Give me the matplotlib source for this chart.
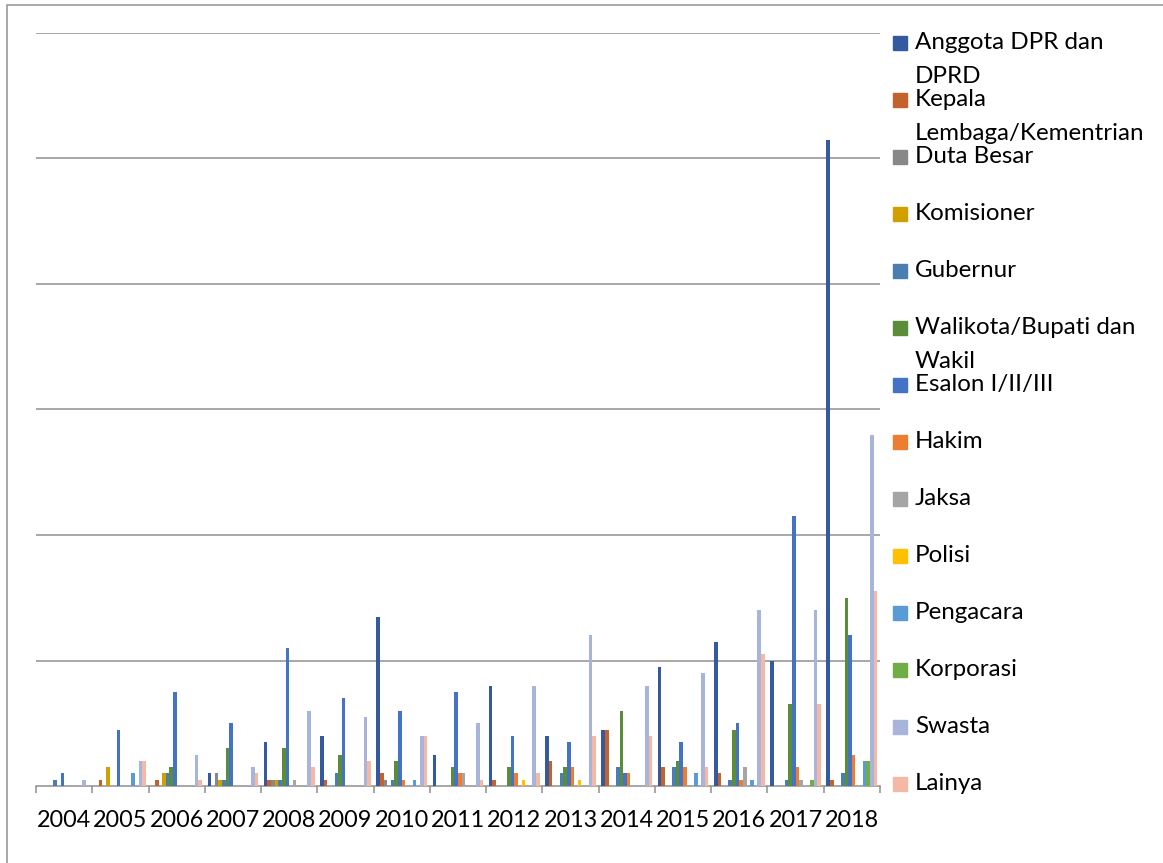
import numpy as np
import matplotlib
matplotlib.use("Agg")
import matplotlib.pyplot as plt
from matplotlib.patches import Rectangle

plt.rcParams['font.family'] = ['Lato', 'DejaVu Sans']

years = ["2004", "2005", "2006", "2007", "2008", "2009", "2010", "2011",
         "2012", "2013", "2014", "2015", "2016", "2017", "2018"]

labels = ["Anggota DPR dan\nDPRD", "Kepala\nLembaga/Kementrian", "Duta Besar",
          "Komisioner", "Gubernur", "Walikota/Bupati dan\nWakil", "Esalon I/II/III",
          "Hakim", "Jaksa", "Polisi", "Pengacara", "Korporasi", "Swasta", "Lainya"]

colors = ["#34599E", "#C4622D", "#888888", "#D29F00", "#4A7DB0", "#5B8C3A",
          "#4472C4", "#ED7D31", "#A5A5A5", "#FFC000", "#5B9BD5", "#70AD47",
          "#A7B5DC", "#F4B8A4"]

# cases per year, one list per profession
dpr        = [0, 0, 0, 2, 7, 8, 27, 5, 16, 8, 9, 19, 23, 20, 103]
kepala     = [0, 1, 1, 0, 1, 1, 2, 0, 1, 4, 9, 3, 2, 0, 1]
duta       = [0, 0, 0, 2, 1, 0, 1, 0, 0, 0, 0, 0, 0, 0, 0]
komisioner = [0, 3, 2, 1, 1, 0, 0, 0, 0, 0, 0, 0, 0, 0, 0]
gubernur   = [1, 0, 2, 1, 1, 2, 1, 0, 0, 2, 3, 3, 1, 1, 2]
walikota   = [0, 0, 3, 6, 6, 5, 4, 3, 3, 3, 12, 4, 9, 13, 30]
eselon     = [2, 9, 15, 10, 22, 14, 12, 15, 8, 7, 2, 7, 10, 43, 24]
hakim      = [0, 0, 0, 0, 0, 0, 1, 2, 2, 3, 2, 3, 1, 3, 5]
jaksa      = [0, 0, 0, 0, 1, 0, 0, 2, 0, 0, 0, 0, 3, 1, 0]
polisi     = [0, 0, 0, 0, 0, 0, 0, 0, 1, 1, 0, 0, 0, 0, 0]
pengacara  = [0, 2, 0, 0, 0, 0, 1, 0, 0, 0, 0, 2, 1, 0, 4]
korporasi  = [0, 0, 0, 0, 0, 0, 0, 0, 0, 0, 0, 0, 0, 1, 4]
swasta     = [1, 4, 5, 3, 12, 11, 8, 10, 16, 24, 16, 18, 28, 28, 56]
lainya     = [0, 4, 1, 2, 3, 4, 8, 1, 2, 8, 8, 3, 21, 13, 31]

series = [dpr, kepala, duta, komisioner, gubernur, walikota, eselon,
          hakim, jaksa, polisi, pengacara, korporasi, swasta, lainya]

W, H = 1163, 863
fig = plt.figure(figsize=(W / 100, H / 100), dpi=100)
ax = fig.add_axes([36 / W, 77 / H, 844 / W, 753 / H])

n = len(series)
bw = 1 / (n + 1.5)
x = np.arange(len(years))
for j, vals in enumerate(series):
    ax.bar(x + (j - (n - 1) / 2) * bw, vals, width=bw, color=colors[j],
           linewidth=0, zorder=3)

ax.set_xlim(-0.5, len(years) - 0.5)
ax.set_ylim(0, 120)
ax.set_yticks(np.arange(20, 121, 20))
ax.yaxis.grid(True, color="#8F8F8F", linewidth=1.1, zorder=0)
ax.tick_params(axis="y", length=0, labelleft=False)

for s in ["top", "right", "left"]:
    ax.spines[s].set_visible(False)
ax.spines["bottom"].set_color("#8F8F8F")
ax.spines["bottom"].set_linewidth(1.1)

ax.set_xticks(x)
ax.set_xticklabels(years, fontsize=16.8)
ax.tick_params(axis="x", which="major", length=0, pad=17)
ax.set_xticks(np.arange(len(years) + 1) - 0.5, minor=True)
ax.tick_params(axis="x", which="minor", length=5, color="#8F8F8F", width=1.1)

# legend, fixed row spacing with wrapped labels hanging below
for j, lab in enumerate(labels):
    yc = 42.7 + 57 * j
    fig.patches.append(Rectangle((893 / W, 1 - (yc + 7) / H), 14 / W, 14 / H,
                                 transform=fig.transFigure, color=colors[j]))
    fig.text(915 / W, 1 - (yc - 11) / H, lab, fontsize=17.4, va="top",
             ha="left", linespacing=1.78)

# chart border
fig.patches.append(Rectangle((7 / W, -0.1), 1.2, 1 - 5 / H + 0.1,
                             transform=fig.transFigure, fill=False,
                             edgecolor="#8F8F8F", linewidth=1.1))

fig.savefig("out.png", dpi=100)
